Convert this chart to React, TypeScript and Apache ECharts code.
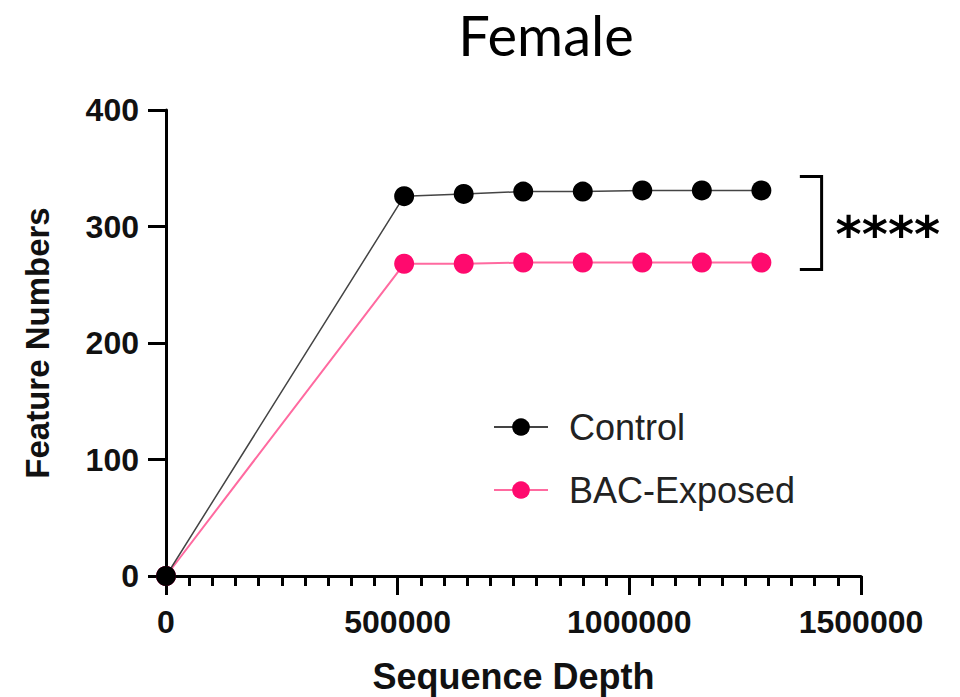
import React, { useEffect, useRef } from "react";
import * as echarts from "echarts";

const depths = [0, 514000, 642500, 771000, 899500, 1028000, 1156500, 1285000];
const controlValues = [0, 326, 328, 330, 330, 331, 331, 331];
const bacValues = [0, 268, 268, 269, 269, 269, 269, 269];
const seriesNames = ["Control", "BAC-Exposed"];
const bracketY = [343, 263];
const bracketX = [1368000, 1415000];
const significance = "****";

export default function App() {
  const ref = useRef<HTMLDivElement>(null);
  useEffect(() => {
    if (!ref.current) return;
    const chart = echarts.init(ref.current, null, { renderer: "svg" });
    const axisFont = { fontFamily: "Liberation Sans, Arial, sans-serif", fontWeight: "bold" as const, fontSize: 32, color: "#111" };
    chart.setOption({
      animation: false,
      backgroundColor: "#fff",
      title: {
        text: "Female",
        left: 546,
        textAlign: "center",
        top: 4,
        padding: 0,
        textStyle: { fontFamily: "Lato, Noto Sans, sans-serif", fontWeight: "normal", fontSize: 56, lineHeight: 60, color: "#000" },
      },
      grid: { left: 166, right: 99, top: 110, bottom: 121, containLabel: false, outerBoundsMode: "none" },
      legend: {
        orient: "vertical",
        left: 488,
        top: 404,
        itemGap: 27,
        itemWidth: 54,
        itemHeight: 22,
        data: seriesNames,
        textStyle: { fontFamily: "Liberation Sans, Arial, sans-serif", fontSize: 36, color: "#222", padding: [0, 0, 0, 16] },
      },
      xAxis: {
        type: "value",
        min: 0,
        max: 1500000,
        interval: 500000,
        name: "Sequence Depth",
        nameLocation: "middle",
        nameGap: 82,
        nameTextStyle: { ...axisFont, fontSize: 36 },
        axisLine: { show: true, lineStyle: { color: "#000", width: 3 } },
        axisTick: { show: true, length: 19, lineStyle: { color: "#000", width: 3 } },
        minorTick: { show: true, splitNumber: 10, length: 10, lineStyle: { color: "#000", width: 3 } },
        splitLine: { show: false },
        axisLabel: { ...axisFont, margin: 30, formatter: (v: number) => String(v) },
      },
      yAxis: {
        type: "value",
        min: 0,
        max: 400,
        interval: 100,
        name: "Feature Numbers",
        nameLocation: "middle",
        nameGap: 112,
        nameTextStyle: { ...axisFont, fontSize: 33 },
        axisLine: { show: true, lineStyle: { color: "#000", width: 3 } },
        axisTick: { show: true, length: 18, lineStyle: { color: "#000", width: 3 } },
        splitLine: { show: false },
        axisLabel: { ...axisFont, margin: 27 },
      },
      series: [
        {
          name: seriesNames[1],
          type: "line",
          data: depths.map((d, i) => [d, bacValues[i]]),
          symbol: "circle",
          symbolSize: 20,
          itemStyle: { color: "#ff0a6e" },
          lineStyle: { color: "#ff6aa0", width: 2 },
          z: 2,
        },
        {
          name: seriesNames[0],
          type: "line",
          data: depths.map((d, i) => [d, controlValues[i]]),
          symbol: "circle",
          symbolSize: 20,
          itemStyle: { color: "#000" },
          lineStyle: { color: "#444", width: 1.5 },
          z: 3,
        },
      ],
    });
    const top = chart.convertToPixel({ gridIndex: 0 }, [bracketX[0], bracketY[0]]) as number[];
    const bottom = chart.convertToPixel({ gridIndex: 0 }, [bracketX[1], bracketY[1]]) as number[];
    const x0 = top[0];
    const x1 = bottom[0];
    chart.setOption({
      graphic: [
        {
          type: "polyline",
          shape: { points: [[x0, top[1]], [x1, top[1]], [x1, bottom[1]], [x0, bottom[1]]] },
          style: { stroke: "#000", lineWidth: 3, fill: null },
        },
        {
          type: "text",
          x: x1 + 14,
          y: (top[1] + bottom[1]) / 2 + 12,
          style: {
            text: significance,
            fontFamily: "DejaVu Sans, sans-serif",
            fontWeight: "bold",
            fontSize: 50,
            fill: "#000",
            verticalAlign: "middle",
          },
        },
      ],
    });
    return () => chart.dispose();
  }, []);
  return <div ref={ref} style={{ width: 960, height: 697, position: "absolute", left: 0, top: 0 }} />;
}
